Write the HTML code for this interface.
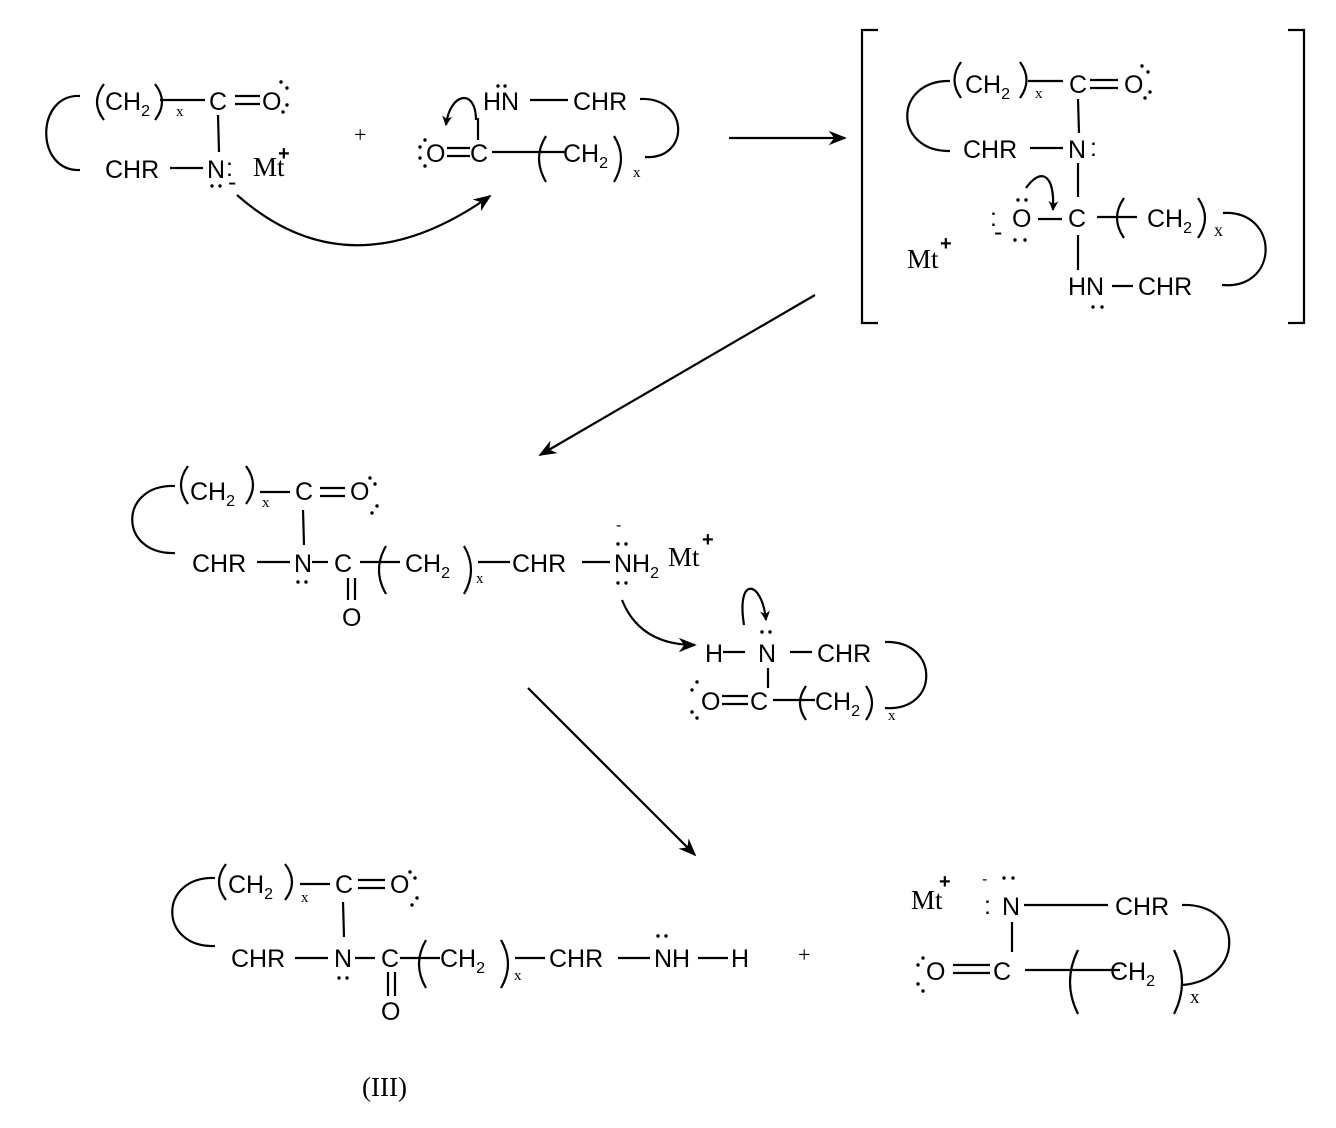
<!DOCTYPE html>
<html><head><meta charset="utf-8"><style>
html,body{margin:0;padding:0;background:#fff}
svg{display:block}
text{font-family:"Liberation Sans",sans-serif;font-size:25px;fill:#000}
.s{font-size:16px}
.sx{font-family:"Liberation Serif",serif;font-size:15px}
.mt{font-family:"Liberation Serif",serif;font-size:27px}
.pl{font-family:"Liberation Serif",serif;font-size:22px}
.sp{font-size:20px;font-weight:bold}
</style></head><body>
<svg width="1336" height="1128" viewBox="0 0 1336 1128" xmlns="http://www.w3.org/2000/svg">
<defs><marker id="a" viewBox="0 0 10 10" refX="9" refY="5" markerWidth="10" markerHeight="10" markerUnits="userSpaceOnUse" orient="auto"><path d="M0,0 L10,5 L0,10 L3,5z" fill="#000"/></marker>
<marker id="b" viewBox="0 0 10 10" refX="9" refY="5" markerWidth="18" markerHeight="18" markerUnits="userSpaceOnUse" orient="auto"><path d="M0,1 L10,5 L0,9 L3,5z" fill="#000"/></marker></defs>
<g fill="none" stroke="#000" stroke-width="2.2">
<!-- parens -->
<path d="M104,84 Q90,102 104,120"/><path d="M155,84 Q169,102 155,120"/>
<path d="M546,136 Q532,158 546,182"/><path d="M614,136 Q628,158 614,182"/>
<path d="M961,62 Q948,80 961,98"/><path d="M1020,62 Q1033,80 1020,98"/>
<path d="M1124,198 Q1110,218 1124,238"/><path d="M1198,198 Q1212,218 1198,238"/>
<path d="M188,466 Q174,485 188,504"/><path d="M246,466 Q260,485 246,504"/>
<path d="M386,546 Q372,570 386,594"/><path d="M464,546 Q478,570 464,594"/>
<path d="M806,686 Q794,703 806,720"/><path d="M866,686 Q878,703 866,720"/>
<path d="M226,864 Q212,882 226,900"/><path d="M285,864 Q299,882 285,900"/>
<path d="M426,940 Q412,964 426,988"/><path d="M501,940 Q515,964 501,988"/>
<path d="M1078,950 Q1062,982 1078,1014"/><path d="M1174,950 Q1190,982 1174,1014"/>
<!-- top-left -->
<path d="M80,96 C35,94 35,172 80,170"/>
<line x1="160" y1="100" x2="205" y2="100"/>
<line x1="235" y1="96" x2="260" y2="96"/><line x1="235" y1="104" x2="260" y2="104"/>
<line x1="218" y1="115" x2="219" y2="152"/>
<line x1="170" y1="168" x2="203" y2="168"/>
<path d="M237,195 Q350,295 490,196" marker-end="url(#b)"/>
<!-- top-middle -->
<line x1="530" y1="100" x2="568" y2="100"/>
<path d="M640,99 C690,97 690,160 645,157"/>
<line x1="478" y1="118" x2="478" y2="140"/>
<line x1="447" y1="148" x2="470" y2="148"/><line x1="447" y1="156" x2="470" y2="156"/>
<line x1="492" y1="152" x2="565" y2="152"/>
<path d="M476,120 C476,88 450,92 446,125" marker-end="url(#a)"/>
<line x1="729" y1="138" x2="845" y2="138" marker-end="url(#b)"/>
<!-- bracket -->
<path d="M878,30 L862,30 L862,323 L878,323"/>
<path d="M1288,30 L1304,30 L1304,323 L1288,323"/>
<path d="M950,81 C893,80 893,152 950,151"/>
<line x1="1028" y1="81" x2="1063" y2="81"/>
<line x1="1090" y1="80" x2="1118" y2="80"/><line x1="1090" y1="88" x2="1118" y2="88"/>
<line x1="1078" y1="99" x2="1079" y2="133"/>
<line x1="1030" y1="148" x2="1063" y2="148"/>
<line x1="1078" y1="163" x2="1078" y2="197"/>
<line x1="1038" y1="219" x2="1062" y2="219"/>
<line x1="1097" y1="217" x2="1137" y2="217"/>
<path d="M1223,213 C1280,210 1280,290 1222,285"/>
<line x1="1078" y1="235" x2="1078" y2="270"/>
<line x1="1112" y1="286" x2="1133" y2="286"/>
<path d="M1026,188 C1040,168 1055,172 1053,210" marker-end="url(#a)"/>
<!-- arrows -->
<line x1="815" y1="295" x2="540" y2="455" marker-end="url(#b)"/>
<line x1="528" y1="688" x2="695" y2="855" marker-end="url(#b)"/>
<!-- middle -->
<path d="M175,486 C118,484 118,555 175,553"/>
<line x1="260" y1="492" x2="290" y2="492"/>
<line x1="320" y1="488" x2="345" y2="488"/><line x1="320" y1="496" x2="345" y2="496"/>
<line x1="303" y1="510" x2="304" y2="545"/>
<line x1="257" y1="562" x2="290" y2="562"/>
<line x1="312" y1="562" x2="328" y2="562"/>
<line x1="360" y1="562" x2="400" y2="562"/>
<line x1="348" y1="578" x2="348" y2="600"/><line x1="355" y1="578" x2="355" y2="600"/>
<line x1="478" y1="562" x2="510" y2="562"/>
<line x1="582" y1="562" x2="610" y2="562"/>
<path d="M622,600 Q640,645 695,645" marker-end="url(#b)"/>
<!-- middle right ring -->
<line x1="723" y1="652" x2="745" y2="652"/>
<line x1="790" y1="652" x2="812" y2="652"/>
<path d="M885,642 C940,640 940,712 885,708"/>
<line x1="768" y1="668" x2="768" y2="688"/>
<line x1="722" y1="696" x2="748" y2="696"/><line x1="722" y1="704" x2="748" y2="704"/>
<line x1="773" y1="700" x2="815" y2="700"/>
<path d="M744,625 C736,575 762,580 766,620" marker-end="url(#a)"/>
<!-- bottom left -->
<path d="M215,878 C158,876 158,948 215,946"/>
<line x1="300" y1="884" x2="330" y2="884"/>
<line x1="358" y1="880" x2="385" y2="880"/><line x1="358" y1="888" x2="385" y2="888"/>
<line x1="343" y1="902" x2="344" y2="937"/>
<line x1="295" y1="958" x2="328" y2="958"/>
<line x1="355" y1="958" x2="375" y2="958"/>
<line x1="400" y1="958" x2="440" y2="958"/>
<line x1="388" y1="972" x2="388" y2="996"/><line x1="395" y1="972" x2="395" y2="996"/>
<line x1="515" y1="958" x2="545" y2="958"/>
<line x1="618" y1="958" x2="650" y2="958"/>
<line x1="698" y1="958" x2="728" y2="958"/>
<!-- bottom right -->
<line x1="1024" y1="905" x2="1108" y2="905"/>
<path d="M1182,905 C1245,903 1245,980 1182,985"/>
<line x1="1012" y1="922" x2="1012" y2="952"/>
<line x1="953" y1="965" x2="990" y2="965"/><line x1="953" y1="973" x2="990" y2="973"/>
<line x1="1025" y1="970" x2="1120" y2="970"/>
</g>
<g>
<!-- top-left text -->
<text x="105" y="110">CH<tspan class="s" dy="6">2</tspan></text><text class="sx" x="176" y="116">x</text>
<text x="209" y="110">C</text><text x="262" y="110">O</text>
<text x="105" y="178">CHR</text><text x="207" y="178">N</text><text x="226" y="176">:</text>
<text x="228" y="190">-</text>
<text class="mt" x="253" y="176">Mt</text><text x="278" y="160" class="sp">+</text>
<text class="pl" x="354" y="142">+</text>
<!-- top middle text -->
<text x="483" y="110">HN</text><text x="573" y="110">CHR</text>
<text x="426" y="162">O</text><text x="470" y="162">C</text>
<text x="563" y="162">CH<tspan class="s" dy="6">2</tspan></text><text class="sx" x="633" y="177">x</text>
<!-- bracket text -->
<text x="965" y="93">CH<tspan class="s" dy="6">2</tspan></text><text class="sx" x="1035" y="98">x</text>
<text x="1069" y="93">C</text><text x="1124" y="93">O</text>
<text x="963" y="158">CHR</text><text x="1068" y="158">N</text><text x="1090" y="156">:</text>
<text x="1012" y="227">O</text><text x="990" y="226">:</text><text x="994" y="240">-</text>
<text x="1068" y="227">C</text>
<text x="1147" y="227">CH<tspan class="s" dy="6">2</tspan></text><text class="sx" x="1214" y="236" style="font-size:18px">x</text>
<text x="1068" y="295">HN</text><text x="1138" y="295">CHR</text>
<text class="mt" x="907" y="268">Mt</text><text x="940" y="250" class="sp">+</text>
<!-- middle text -->
<text x="190" y="500">CH<tspan class="s" dy="6">2</tspan></text><text class="sx" x="262" y="507">x</text>
<text x="295" y="500">C</text><text x="350" y="500">O</text>
<text x="192" y="572">CHR</text><text x="294" y="572">N</text><text x="334" y="572">C</text>
<text x="342" y="626">O</text>
<text x="405" y="572">CH<tspan class="s" dy="6">2</tspan></text><text class="sx" x="476" y="583">x</text>
<text x="512" y="572">CHR</text>
<text x="614" y="572">NH<tspan class="s" dy="6">2</tspan></text><text class="mt" x="668" y="572" dy="-6">Mt</text><text class="sp" x="702" y="546">+</text>
<text x="616" y="530" class="s">-</text>
<!-- middle right text -->
<text x="705" y="662">H</text><text x="758" y="662">N</text><text x="817" y="662">CHR</text>
<text x="701" y="710">O</text><text x="750" y="710">C</text>
<text x="815" y="710">CH<tspan class="s" dy="6">2</tspan></text><text class="sx" x="888" y="720">x</text>
<!-- bottom left text -->
<text x="228" y="893">CH<tspan class="s" dy="6">2</tspan></text><text class="sx" x="301" y="902">x</text>
<text x="335" y="893">C</text><text x="390" y="893">O</text>
<text x="231" y="967">CHR</text><text x="334" y="967">N</text><text x="381" y="967">C</text>
<text x="381" y="1020">O</text>
<text x="440" y="967">CH<tspan class="s" dy="6">2</tspan></text><text class="sx" x="514" y="980">x</text>
<text x="549" y="967">CHR</text><text x="654" y="967">NH</text><text x="731" y="967">H</text>
<text class="pl" x="798" y="962">+</text>
<text class="mt" x="362" y="1096">(III)</text>
<!-- bottom right text -->
<text class="mt" x="911" y="909">Mt</text><text class="sp" x="939" y="888">+</text>
<text x="982" y="884" class="s">-</text><text x="984" y="914">:</text>
<text x="1002" y="915">N</text><text x="1115" y="915">CHR</text>
<text x="926" y="980">O</text><text x="993" y="980">C</text>
<text x="1110" y="980">CH<tspan class="s" dy="6">2</tspan></text><text class="sx" x="1190" y="1003" style="font-size:19px">x</text>
</g>
<g fill="#000">
<circle cx="281" cy="82" r="1.7"/><circle cx="287" cy="88" r="1.7"/><circle cx="287" cy="105" r="1.7"/><circle cx="283" cy="112" r="1.7"/>
<circle cx="212" cy="186" r="1.7"/><circle cx="220" cy="186" r="1.7"/>
<circle cx="498" cy="86" r="1.7"/><circle cx="505" cy="86" r="1.7"/>
<circle cx="425" cy="140" r="1.7"/><circle cx="420" cy="147" r="1.7"/><circle cx="420" cy="158" r="1.7"/><circle cx="425" cy="166" r="1.7"/>
<circle cx="1142" cy="66" r="1.7"/><circle cx="1148" cy="72" r="1.7"/><circle cx="1150" cy="92" r="1.7"/><circle cx="1145" cy="98" r="1.7"/>
<circle cx="1018" cy="200" r="1.7"/><circle cx="1026" cy="200" r="1.7"/><circle cx="1015" cy="240" r="1.7"/><circle cx="1025" cy="240" r="1.7"/>
<circle cx="1093" cy="307" r="1.7"/><circle cx="1102" cy="307" r="1.7"/>
<circle cx="370" cy="478" r="1.7"/><circle cx="375" cy="484" r="1.7"/><circle cx="377" cy="506" r="1.7"/><circle cx="372" cy="513" r="1.7"/>
<circle cx="298" cy="582" r="1.7"/><circle cx="306" cy="582" r="1.7"/>
<circle cx="618" cy="544" r="1.7"/><circle cx="626" cy="544" r="1.7"/><circle cx="618" cy="583" r="1.7"/><circle cx="626" cy="583" r="1.7"/>
<circle cx="762" cy="632" r="1.7"/><circle cx="770" cy="632" r="1.7"/>
<circle cx="697" cy="682" r="1.7"/><circle cx="692" cy="690" r="1.7"/><circle cx="692" cy="712" r="1.7"/><circle cx="697" cy="718" r="1.7"/>
<circle cx="410" cy="872" r="1.7"/><circle cx="415" cy="878" r="1.7"/><circle cx="417" cy="898" r="1.7"/><circle cx="412" cy="905" r="1.7"/>
<circle cx="339" cy="978" r="1.7"/><circle cx="347" cy="978" r="1.7"/>
<circle cx="658" cy="936" r="1.7"/><circle cx="666" cy="936" r="1.7"/>
<circle cx="1004" cy="878" r="1.7"/><circle cx="1013" cy="878" r="1.7"/>
<circle cx="923" cy="958" r="1.7"/><circle cx="918" cy="965" r="1.7"/><circle cx="918" cy="984" r="1.7"/><circle cx="923" cy="991" r="1.7"/>
</g>
</svg>
</body></html>
